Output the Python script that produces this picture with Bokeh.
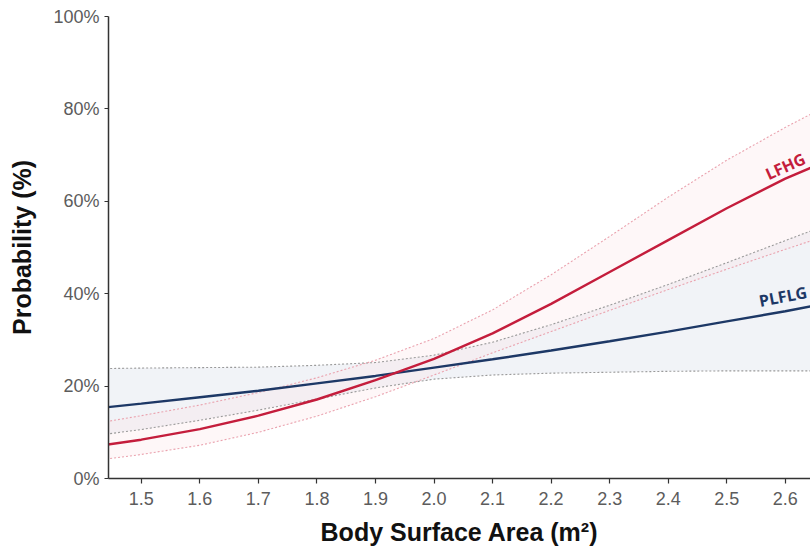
from bokeh.plotting import figure
from bokeh.models import Range1d, FixedTicker, NumeralTickFormatter, PrintfTickFormatter
from bokeh.core.properties import value
from bokeh.embed import file_html
from bokeh.resources import INLINE

# Body surface area (m²)
bsa = [1.44, 1.5, 1.6, 1.7, 1.8, 1.9, 2.0, 2.1, 2.2, 2.3, 2.4, 2.5, 2.6, 2.65]

# LFHG probability (%) with 95% CI
lfhg = [7.3, 8.4, 10.7, 13.6, 17.1, 21.3, 25.9, 31.4, 37.8, 44.7, 51.6, 58.5, 64.9, 67.6]
lfhg_lo = [4.2, 5.2, 7.2, 10.0, 13.5, 17.7, 22.4, 27.2, 31.8, 36.4, 40.9, 45.3, 49.6, 51.7]
lfhg_hi = [12.3, 13.6, 15.9, 18.6, 21.8, 25.6, 30.3, 36.5, 44.1, 52.4, 60.9, 68.9, 76.0, 79.3]

# PLFLG probability (%) with 95% CI
plflg = [15.4, 16.2, 17.6, 19.0, 20.6, 22.2, 24.0, 25.8, 27.7, 29.7, 31.8, 34.0, 36.2, 37.4]
plflg_lo = [9.6, 10.6, 12.6, 14.8, 17.2, 19.6, 21.5, 22.4, 22.8, 23.0, 23.2, 23.3, 23.3, 23.3]
plflg_hi = [23.8, 23.9, 24.0, 24.1, 24.5, 25.1, 26.7, 29.5, 33.3, 37.5, 42.0, 46.7, 51.5, 53.9]

x_ticks = [1.5, 1.6, 1.7, 1.8, 1.9, 2.0, 2.1, 2.2, 2.3, 2.4, 2.5, 2.6]
y_ticks = [0, 20, 40, 60, 80, 100]

labels = ["LFHG", "PLFLG"]
label_x = [2.600, 2.596]
label_y = [67.6, 39.4]

RED = "#c41d3c"
NAVY = "#1d3866"

p = figure(width=810, height=550, output_backend="svg", toolbar_location=None,
           x_range=Range1d(1.444, 2.643), y_range=Range1d(0, 100),
           min_border_left=108, min_border_right=0, min_border_top=16, min_border_bottom=72)
p.outline_line_color = None
p.grid.visible = False
p.background_fill_color = "white"
p.border_fill_color = "white"

# CI bands
p.varea(x=bsa, y1=plflg_lo, y2=plflg_hi, fill_color="#f1f3f7", fill_alpha=1.0)
p.varea(x=bsa, y1=lfhg_lo, y2=lfhg_hi, fill_color="#fbe3e8", fill_alpha=0.3)

# CI boundaries
p.line(bsa, plflg_hi, line_color="#9a9a9a", line_width=1.1, line_dash="2 2")
p.line(bsa, plflg_lo, line_color="#9a9a9a", line_width=1.1, line_dash="2 2")
p.line(bsa, lfhg_hi, line_color="#eaa2ae", line_width=1.1, line_dash="2 2")
p.line(bsa, lfhg_lo, line_color="#eaa2ae", line_width=1.1, line_dash="2 2")

# Main curves
p.line(bsa, plflg, line_color=NAVY, line_width=2.4)
p.line(bsa, lfhg, line_color=RED, line_width=2.4)

# Curve labels
p.text(x=[label_x[0]], y=[label_y[0]], text=[labels[0]], angle=0.42,
       text_color=RED, text_font=value("Open Sans"), text_font_style="bold",
       text_font_size="16px", text_align="center", text_baseline="middle")
p.text(x=[label_x[1]], y=[label_y[1]], text=[labels[1]], angle=0.19,
       text_color=NAVY, text_font=value("Open Sans"), text_font_style="bold",
       text_font_size="16px", text_align="center", text_baseline="middle")

# Axes
p.xaxis.ticker = FixedTicker(ticks=x_ticks)
p.xaxis.formatter = NumeralTickFormatter(format="0.0")
p.yaxis.ticker = FixedTicker(ticks=y_ticks)
p.yaxis.formatter = PrintfTickFormatter(format="%d%%")

for ax in (p.xaxis[0], p.yaxis[0]):
    ax.axis_line_color = "#333333"
    ax.axis_line_width = 1.5
    ax.major_tick_line_color = "#333333"
    ax.major_tick_line_width = 1.2
    ax.major_tick_in = 0
    ax.minor_tick_line_color = None
    ax.major_label_text_font = "Liberation Sans"
    ax.major_label_text_font_size = "18px"
    ax.major_label_text_color = "#5c5c5c"
    ax.axis_label_text_font = "Liberation Sans"
    ax.axis_label_text_font_style = "bold"
    ax.axis_label_text_font_size = "25px"
    ax.axis_label_text_color = "#111111"

p.xaxis.axis_label = "Body Surface Area (m²)"
p.xaxis.major_tick_out = 5
p.xaxis.major_label_standoff = 8
p.xaxis.axis_label_standoff = 10

p.yaxis.axis_label = "Probability (%)"
p.yaxis.major_tick_out = 4
p.yaxis.major_label_standoff = 5
p.yaxis.axis_label_standoff = 14

open("out.html", "w").write(file_html(p, INLINE))
